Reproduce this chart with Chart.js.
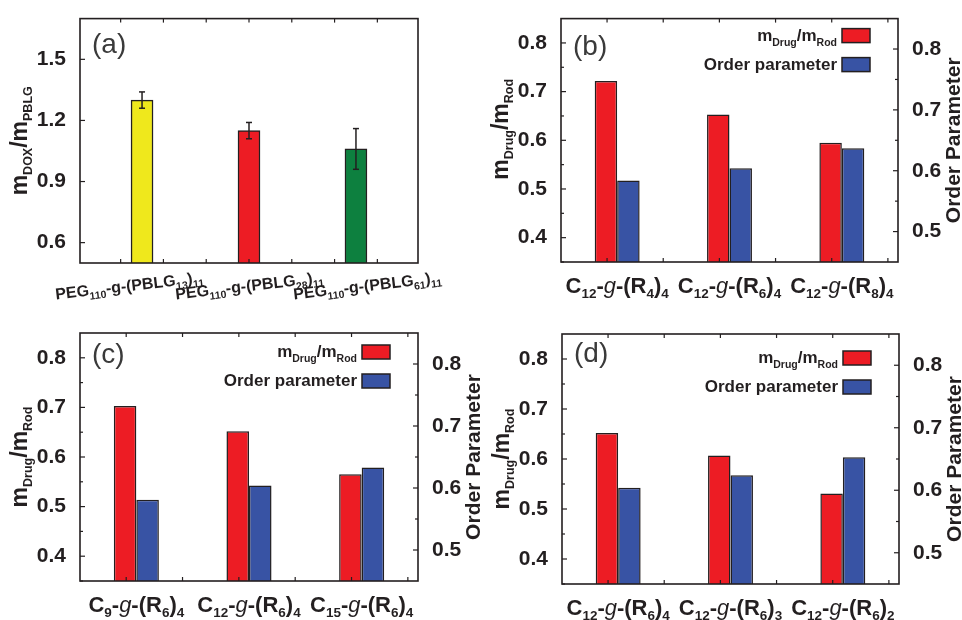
<!DOCTYPE html>
<html>
<head>
<meta charset="utf-8">
<script src="https://cdn.jsdelivr.net/npm/chart.js@4.4.0/dist/chart.umd.min.js"></script>
<style>
  body { margin: 0; background: #fff; }
  .panel { position: absolute; width: 481px; height: 310px; }
</style>
</head>
<body>
<div class="panel" style="left:0;top:0"><canvas id="chartA" width="481" height="310"></canvas></div>
<div class="panel" style="left:481px;top:0"><canvas id="chartB" width="481" height="310"></canvas></div>
<div class="panel" style="left:0;top:310px"><canvas id="chartC" width="481" height="310"></canvas></div>
<div class="panel" style="left:481px;top:310px"><canvas id="chartD" width="481" height="310"></canvas></div>
<script>
// (a) drug loading of the three PEG-g-PBLG copolymers
const labelsA = ["PEG_{110}-g-(PBLG_{13})_{11}", "PEG_{110}-g-(PBLG_{28})_{11}", "PEG_{110}-g-(PBLG_{61})_{11}"];
const positionsA = [1, 2, 3];
const valuesA = [1.30, 1.15, 1.06];
const errorsA = [0.04, 0.04, 0.10];
const ticksA = [0.6, 0.9, 1.2, 1.5];

// (b)-(d) drug/rod mass ratio and order parameter
const labelsB = ["C_{12}-*g*-(R_{4})_{4}", "C_{12}-*g*-(R_{6})_{4}", "C_{12}-*g*-(R_{8})_{4}"];
const drugB = [0.722, 0.653, 0.595];
const orderB = [0.584, 0.604, 0.637];

const labelsC = ["C_{9}-*g*-(R_{6})_{4}", "C_{12}-*g*-(R_{6})_{4}", "C_{15}-*g*-(R_{6})_{4}"];
const drugC = [0.703, 0.652, 0.565];
const orderC = [0.581, 0.604, 0.633];

const labelsD = ["C_{12}-*g*-(R_{6})_{4}", "C_{12}-*g*-(R_{6})_{3}", "C_{12}-*g*-(R_{6})_{2}"];
const drugD = [0.652, 0.607, 0.531];
const orderD = [0.604, 0.624, 0.653];

const leftTicks = [0.4, 0.5, 0.6, 0.7, 0.8];
const rightTicks = [0.5, 0.6, 0.7, 0.8];

const FONT = '"Liberation Sans", Arial, Helvetica, sans-serif';
const INK = "#231f20";
const RED = "#ed1c24";
const BLUE = "#3853a4";
const colorsA = ["#efe81c", RED, "#0d803f"];

// tiny markup: _{..} subscript, *..* italic (normal weight)
function parseRich(str) {
  const out = [];
  let buf = "", italic = false, i = 0;
  const flush = (sub) => { if (buf) out.push({ t: buf, sub: !!sub, it: italic }); buf = ""; };
  while (i < str.length) {
    const c = str[i];
    if (c === "_" && str[i + 1] === "{") {
      flush();
      const end = str.indexOf("}", i);
      buf = str.slice(i + 2, end);
      flush(true);
      i = end + 1;
    } else if (c === "*") {
      flush(); italic = !italic; i++;
    } else { buf += c; i++; }
  }
  flush();
  return out;
}

function richFont(seg, st) {
  const size = seg.sub ? st.sub : st.size;
  return (seg.it ? "italic normal " : "bold ") + size + "px " + FONT;
}

function drawRich(ctx, str, x, y, st) {
  const segs = parseRich(str);
  ctx.save();
  ctx.translate(x, y);
  if (st.rotate) ctx.rotate(st.rotate);
  let w = 0;
  for (const s of segs) { ctx.font = richFont(s, st); w += ctx.measureText(s.t).width; }
  let cx = st.align === "center" ? -w / 2 : st.align === "right" ? -w : 0;
  ctx.fillStyle = INK;
  ctx.textAlign = "left";
  ctx.textBaseline = "alphabetic";
  for (const s of segs) {
    ctx.font = richFont(s, st);
    ctx.fillText(s.t, cx, s.sub ? st.shift : 0);
    cx += ctx.measureText(s.t).width;
  }
  ctx.restore();
}

function line(ctx, x1, y1, x2, y2) {
  ctx.beginPath(); ctx.moveTo(x1, y1); ctx.lineTo(x2, y2); ctx.stroke();
}

const extrasPlugin = {
  id: "extras",
  afterDatasetsDraw(chart, args, o) {
    const { ctx, chartArea: a } = chart;
    const xs = chart.scales.x;
    ctx.save();
    ctx.strokeStyle = INK;

    if (o.errors) {
      const ys = chart.scales.y;
      const meta = chart.getDatasetMeta(0);
      ctx.lineWidth = 1.5;
      o.errors.forEach((e, i) => {
        const px = meta.data[i].x;
        const v = chart.data.datasets[0].data[i].y;
        const y1 = ys.getPixelForValue(v + e), y2 = ys.getPixelForValue(v - e);
        line(ctx, px, y1, px, y2);
        line(ctx, px - 3, y1, px + 3, y1);
        line(ctx, px - 3, y2, px + 3, y2);
      });
    }

    ctx.lineWidth = 1.6;
    ctx.strokeRect(a.left, a.top, a.right - a.left, a.bottom - a.top);

    ctx.lineWidth = 1.2;
    for (const id of ["y", "y1"]) {
      const s = chart.scales[id];
      if (!s) continue;
      const x0 = s.position === "left" ? a.left : a.right;
      const dir = s.position === "left" ? 1 : -1;
      s.ticks.forEach(t => {
        const py = s.getPixelForValue(t.value);
        line(ctx, x0, py, x0 + dir * 5, py);
        if (o.minorY && t.value + o.minorY < s.max) {
          const pm = s.getPixelForValue(t.value + o.minorY);
          line(ctx, x0, pm, x0 + dir * 3, pm);
        }
        if (o.minorY && t.value === s.ticks[0].value && t.value - o.minorY > s.min) {
          const pm = s.getPixelForValue(t.value - o.minorY);
          line(ctx, x0, pm, x0 + dir * 3, pm);
        }
      });
    }

    // small inward ticks on bottom and top axes
    let xv = [];
    if (o.xTickStep) {
      for (let v = o.xTickStart; v < xs.max + 0.5; v += o.xTickStep) xv.push(v);
    } else {
      xv = xs.ticks.map(t => t.value);
    }
    xv.forEach(v => {
      const px = xs.getPixelForValue(v);
      if (px <= a.left + 1 || px >= a.right - 1) return;
      line(ctx, px, a.bottom, px, a.bottom - 4);
      line(ctx, px, a.top, px, a.top + 4);
    });
    ctx.restore();
  },
  afterDraw(chart, args, o) {
    const { ctx, chartArea: a } = chart;
    const xs = chart.scales.x;
    const cy = (a.top + a.bottom) / 2;

    // category labels
    o.labels.forEach((lab, i) => {
      const px = xs.getPixelForValue(o.labelAt ? o.labelAt[i] : i) + (o.labelShift ? o.labelShift[i] : 0);
      drawRich(ctx, lab, px, a.bottom + o.labelDy, o.labelStyle);
    });

    // axis titles
    drawRich(ctx, o.yTitle, a.left - 53, cy + (o.yTitleShift || 0),
      { size: 23, sub: 12.5, shift: 5, align: "center", rotate: -Math.PI / 2 });
    if (o.y1Title) {
      drawRich(ctx, o.y1Title, a.right + 62, cy,
        { size: 21, sub: 12, shift: 4, align: "center", rotate: -Math.PI / 2 });
    }

    // panel letter
    ctx.save();
    ctx.font = "normal 28px " + FONT;
    ctx.fillStyle = "#3a3a3a";
    ctx.textAlign = "left";
    ctx.textBaseline = "alphabetic";
    ctx.fillText(o.letter, a.left + 12, a.top + o.letterDy);
    ctx.restore();

    // legend with subscripted labels
    if (o.legendTop !== undefined) {
      chart.data.datasets.forEach((ds, i) => {
        const bx = a.right - 28 - 28, by = a.top + o.legendTop + i * 29;
        ctx.save();
        ctx.fillStyle = ds.backgroundColor;
        ctx.strokeStyle = INK;
        ctx.lineWidth = 1.5;
        ctx.fillRect(bx, by, 28, 14);
        ctx.strokeRect(bx, by, 28, 14);
        ctx.restore();
        drawRich(ctx, ds.label, bx - 5, by + 12, { size: 17, sub: 10.5, shift: 5, align: "right" });
      });
    }
  }
};

function yScale(min, max, ticks, pos, width) {
  return {
    position: pos,
    min: min, max: max,
    afterBuildTicks: s => { s.ticks = ticks.map(v => ({ value: v })); },
    ticks: { color: INK, padding: 6, font: { family: FONT, size: 21, weight: "bold" }, callback: v => v.toFixed(1) },
    grid: { display: false },
    border: { display: false },
    afterFit: s => { s.width = width; }
  };
}

new Chart(document.getElementById("chartA"), {
  type: "bar",
  data: {
    datasets: [{
      data: positionsA.map((p, i) => ({ x: p, y: valuesA[i] })),
      backgroundColor: colorsA,
      borderColor: INK,
      borderWidth: 1.5,
      barThickness: 22
    }]
  },
  options: {
    responsive: false,
    animation: false,
    layout: { padding: { top: 14, right: 63 } },
    plugins: {
      legend: { display: false },
      tooltip: { enabled: false },
      extras: {
        errors: errorsA,
        labels: labelsA,
        labelAt: positionsA,
        labelShift: [-12, 1, 12],
        labelDy: 28,
        labelStyle: { size: 16, sub: 10.5, shift: 4, align: "center", rotate: -0.115 },
        yTitle: "m_{DOX}/m_{PBLG}",
        letter: "(a)",
        letterDy: 34
      }
    },
    scales: {
      x: {
        type: "linear", min: 0.42, max: 3.58, offset: false,
        ticks: { display: false, stepSize: 0.4, includeBounds: false },
        grid: { display: false }, border: { display: false },
        afterFit: s => { s.height = 47; }
      },
      y: yScale(0.5, 1.7, ticksA, "left", 80)
    }
  },
  plugins: [extrasPlugin]
});

function pairPanel(id, labels, drug, order, box, extra) {
  return new Chart(document.getElementById(id), {
    type: "bar",
    data: {
      labels: labels,
      datasets: [
        { label: "m_{Drug}/m_{Rod}", data: drug, yAxisID: "y", backgroundColor: RED },
        { label: "Order parameter", data: order, yAxisID: "y1", backgroundColor: BLUE }
      ]
    },
    options: {
      responsive: false,
      animation: false,
      layout: { padding: { top: box.top } },
      datasets: { bar: { borderColor: INK, borderWidth: 1.5, categoryPercentage: 0.4, barPercentage: 1 } },
      plugins: {
        legend: { display: false },
        tooltip: { enabled: false },
        extras: Object.assign({
          labels: labels,
          labelDy: 31,
          labelStyle: { size: 22, sub: 13.5, shift: 5, align: "center" },
          yTitle: "m_{Drug}/m_{Rod}",
          y1Title: "Order Parameter",
          minorY: 0.05,
          xTickStart: -0.09,
          xTickStep: 0.5
        }, extra)
      },
      scales: {
        x: {
          ticks: { display: false },
          grid: { display: false }, border: { display: false },
          afterFit: s => { s.height = box.bottom; }
        },
        y: yScale(0.35, 0.85, leftTicks, "left", box.left),
        y1: yScale(0.45, 0.85, rightTicks, "right", box.right)
      }
    },
    plugins: [extrasPlugin]
  });
}

pairPanel("chartB", labelsB, drugB, orderB, { top: 13, bottom: 48, left: 80, right: 64 },
  { letter: "(b)", letterDy: 36, legendTop: 10, yTitleShift: -11 });
pairPanel("chartC", labelsC, drugC, orderC, { top: 23, bottom: 39, left: 80, right: 63 },
  { letter: "(c)", letterDy: 30, legendTop: 12 });
pairPanel("chartD", labelsD, drugD, orderD, { top: 24, bottom: 36, left: 81, right: 63 },
  { letter: "(d)", letterDy: 28, legendTop: 17 });
</script>
</body>
</html>
